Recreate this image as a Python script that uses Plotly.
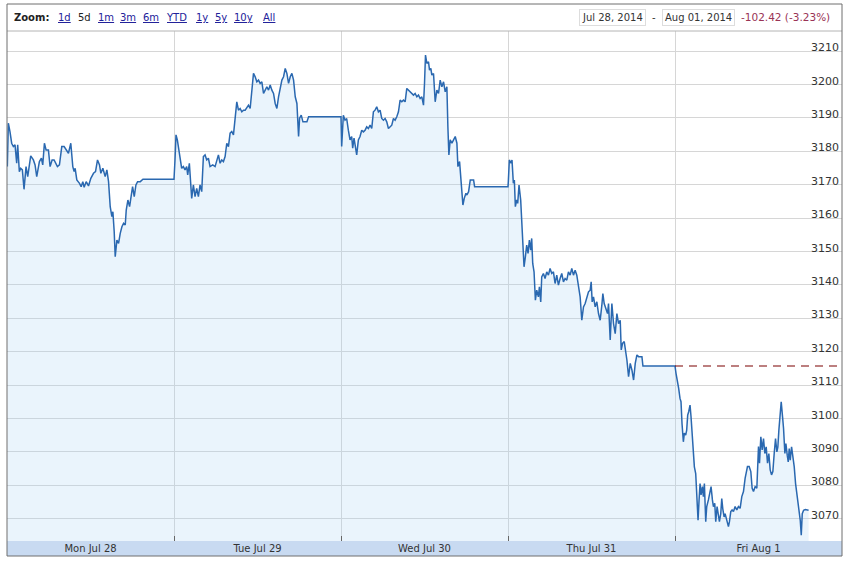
import plotly.graph_objects as go

# ---------------- data ----------------
day_labels = ["Mon Jul 28", "Tue Jul 29", "Wed Jul 30", "Thu Jul 31", "Fri Aug 1"]
y_ticks = [3070, 3080, 3090, 3100, 3110, 3120, 3130, 3140, 3150, 3160, 3170, 3180, 3190, 3200, 3210]
prev_close = 3115.7
range_start = "Jul 28, 2014"
range_end = "Aug 01, 2014"
change_text = "-102.42 (-3.23%)"
zoom_buttons = ["1d", "5d", "1m", "3m", "6m", "YTD", "1y", "5y", "10y", "All"]
zoom_selected = "5d"

# intraday offsets (fraction of day) and index values
mon_t = [0.002, 0.008, 0.018, 0.028, 0.038, 0.048, 0.058, 0.064, 0.074, 0.082, 0.092, 0.102, 0.114, 0.124,
         0.142, 0.158, 0.168, 0.178, 0.194, 0.206, 0.214, 0.224, 0.234, 0.248, 0.258, 0.270, 0.282, 0.294,
         0.302, 0.314, 0.328, 0.342, 0.354, 0.368, 0.382, 0.394, 0.402, 0.408, 0.418, 0.434, 0.444, 0.454,
         0.462, 0.474, 0.488, 0.502, 0.518, 0.530, 0.542, 0.554, 0.562, 0.574, 0.588, 0.598, 0.608, 0.618,
         0.628, 0.634, 0.642, 0.648, 0.658, 0.668, 0.678, 0.688, 0.698, 0.708, 0.714, 0.724, 0.734, 0.744,
         0.752, 0.762, 0.772, 0.782, 0.798, 0.814]
mon_v = [3175.4, 3188.4, 3185.8, 3182.4, 3181.4, 3181.9, 3176.4, 3181.9, 3173.9, 3174.9, 3174.4, 3168.6, 3175.4, 3172.4,
         3178.6, 3177.4, 3175.9, 3172.4, 3176.9, 3177.9, 3175.9, 3182.4, 3180.4, 3180.4, 3175.4, 3177.4, 3177.4, 3175.9,
         3175.4, 3175.9, 3181.4, 3181.4, 3180.4, 3179.4, 3182.4, 3175.4, 3173.9, 3174.9, 3171.4, 3170.4, 3169.4, 3170.9,
         3169.2, 3170.9, 3169.6, 3171.9, 3173.4, 3173.9, 3177.4, 3175.9, 3173.4, 3174.9, 3172.4, 3174.4, 3170.9, 3163.4,
         3160.4, 3161.9, 3155.9, 3148.4, 3153.4, 3152.4, 3155.4, 3157.4, 3158.4, 3157.9, 3162.4, 3165.4, 3163.4, 3167.4,
         3169.4, 3166.4, 3169.9, 3170.9, 3170.9, 3171.6]

tue_t = [0.000, 0.006, 0.012, 0.020, 0.026, 0.036, 0.046, 0.056, 0.066, 0.076, 0.082, 0.092, 0.100, 0.106,
         0.116, 0.126, 0.136, 0.146, 0.156, 0.166, 0.176, 0.186, 0.196, 0.206, 0.216, 0.232, 0.246, 0.256,
         0.266, 0.276, 0.286, 0.296, 0.306, 0.316, 0.326, 0.336, 0.346, 0.356, 0.366, 0.376, 0.386, 0.396,
         0.406, 0.416, 0.426, 0.436, 0.446, 0.456, 0.466, 0.476, 0.486, 0.496, 0.506, 0.516, 0.526, 0.536,
         0.546, 0.556, 0.566, 0.576, 0.586, 0.596, 0.606, 0.616, 0.626, 0.636, 0.646, 0.656, 0.666, 0.676,
         0.686, 0.696, 0.706, 0.716, 0.726, 0.736, 0.746, 0.752, 0.762, 0.772, 0.782, 0.796, 0.806]
tue_v = [3171.6, 3177.4, 3184.9, 3183.4, 3181.4, 3179.4, 3174.9, 3175.4, 3174.4, 3175.4, 3172.9, 3176.4, 3169.4, 3165.9,
         3169.9, 3166.4, 3168.9, 3166.4, 3169.9, 3167.9, 3178.4, 3178.9, 3177.4, 3177.9, 3175.4, 3175.9, 3175.4, 3176.9,
         3178.9, 3176.4, 3177.4, 3176.9, 3178.4, 3182.4, 3181.4, 3185.4, 3185.9, 3184.9, 3190.4, 3194.8, 3192.3, 3192.8,
         3191.8, 3192.3, 3192.3, 3193.3, 3193.8, 3192.8, 3197.3, 3203.3, 3202.3, 3200.8, 3201.3, 3200.3, 3200.8, 3197.3,
         3198.3, 3199.3, 3198.3, 3199.8, 3198.3, 3197.3, 3194.3, 3192.8, 3196.3, 3198.8, 3201.3, 3202.3, 3204.8, 3203.3,
         3200.3, 3202.3, 3203.3, 3201.3, 3196.3, 3194.3, 3184.4, 3189.9, 3190.8, 3188.8, 3188.8, 3188.8, 3190.3]

wed_t = [0.000, 0.004, 0.014, 0.024, 0.034, 0.044, 0.054, 0.064, 0.070, 0.078, 0.084, 0.094, 0.104, 0.114,
         0.124, 0.134, 0.144, 0.154, 0.164, 0.174, 0.184, 0.194, 0.204, 0.214, 0.224, 0.234, 0.244, 0.254,
         0.264, 0.274, 0.284, 0.294, 0.304, 0.314, 0.324, 0.334, 0.344, 0.354, 0.364, 0.374, 0.384, 0.394,
         0.404, 0.414, 0.424, 0.434, 0.444, 0.454, 0.464, 0.474, 0.484, 0.494, 0.500, 0.506, 0.514, 0.524,
         0.530, 0.538, 0.544, 0.554, 0.564, 0.574, 0.584, 0.594, 0.604, 0.614, 0.624, 0.634, 0.640, 0.646,
         0.654, 0.664, 0.674, 0.684, 0.694, 0.700, 0.710, 0.718, 0.730, 0.738, 0.748, 0.754, 0.764, 0.774,
         0.784, 0.794, 0.800]
wed_v = [3190.3, 3181.4, 3190.8, 3189.3, 3189.8, 3186.3, 3183.4, 3184.4, 3180.9, 3183.9, 3182.4, 3178.9, 3183.4, 3184.4,
         3186.3, 3185.8, 3186.3, 3187.3, 3186.8, 3187.8, 3186.8, 3191.8, 3192.3, 3193.3, 3191.8, 3192.3, 3189.8, 3189.3,
         3189.8, 3188.8, 3186.8, 3187.3, 3187.8, 3189.8, 3189.3, 3190.3, 3191.8, 3195.3, 3194.8, 3195.3, 3194.8, 3198.8,
         3198.3, 3197.8, 3197.3, 3196.8, 3197.3, 3196.3, 3196.8, 3195.8, 3196.3, 3193.8, 3200.3, 3208.8, 3206.3, 3206.8,
         3204.3, 3204.8, 3202.8, 3203.3, 3194.8, 3198.3, 3197.3, 3201.3, 3199.3, 3200.8, 3197.8, 3199.3, 3187.3, 3178.9,
         3183.4, 3182.4, 3183.4, 3184.4, 3182.4, 3175.4, 3176.9, 3171.4, 3163.9, 3165.9, 3167.4, 3166.9, 3167.9, 3171.4,
         3171.4, 3171.4, 3169.4]

thu_t = [0.000, 0.002, 0.008, 0.018, 0.024, 0.032, 0.038, 0.044, 0.052, 0.058, 0.066, 0.076, 0.082, 0.088,
         0.096, 0.104, 0.112, 0.120, 0.128, 0.136, 0.142, 0.148, 0.156, 0.164, 0.172, 0.182, 0.188, 0.196,
         0.202, 0.212, 0.222, 0.232, 0.242, 0.252, 0.262, 0.272, 0.282, 0.292, 0.302, 0.312, 0.322, 0.332,
         0.342, 0.352, 0.362, 0.372, 0.382, 0.392, 0.402, 0.412, 0.422, 0.432, 0.442, 0.452, 0.462, 0.472,
         0.482, 0.492, 0.498, 0.504, 0.512, 0.522, 0.532, 0.542, 0.552, 0.562, 0.568, 0.576, 0.588, 0.596,
         0.602, 0.612, 0.622, 0.632, 0.642, 0.652, 0.662, 0.672, 0.678, 0.686, 0.696, 0.704, 0.712, 0.722,
         0.732, 0.742, 0.752, 0.762, 0.772, 0.782, 0.792, 0.802, 0.808]
thu_v = [3169.4, 3170.9, 3177.4, 3176.4, 3177.4, 3170.4, 3171.4, 3163.4, 3165.4, 3164.4, 3169.9, 3165.4, 3160.4, 3153.4,
         3145.4, 3148.4, 3151.9, 3149.4, 3153.4, 3150.4, 3153.9, 3146.4, 3143.9, 3135.4, 3138.4, 3136.4, 3139.4, 3134.9,
         3142.4, 3143.4, 3141.9, 3143.9, 3142.9, 3144.9, 3143.4, 3143.9, 3140.4, 3142.9, 3139.9, 3141.9, 3143.4, 3140.9,
         3141.9, 3141.4, 3143.9, 3142.9, 3144.9, 3142.9, 3144.4, 3142.9, 3139.9, 3136.4, 3129.4, 3133.4, 3134.4, 3136.4,
         3137.9, 3138.4, 3140.9, 3134.9, 3136.4, 3133.4, 3134.9, 3131.4, 3129.4, 3133.9, 3137.4, 3134.4, 3132.4, 3131.4,
         3134.4, 3123.5, 3134.4, 3128.4, 3125.4, 3131.4, 3128.4, 3129.4, 3120.5, 3122.5, 3123.0, 3120.5, 3117.5, 3112.5,
         3116.5, 3114.5, 3111.5, 3116.5, 3119.0, 3118.5, 3118.5, 3118.5, 3115.7]

fri_t = [0.000, 0.006, 0.014, 0.022, 0.030, 0.036, 0.042, 0.050, 0.056, 0.064, 0.070, 0.076, 0.082, 0.090,
         0.096, 0.104, 0.110, 0.116, 0.124, 0.130, 0.138, 0.144, 0.150, 0.156, 0.164, 0.170, 0.176, 0.184,
         0.190, 0.200, 0.210, 0.216, 0.224, 0.230, 0.238, 0.244, 0.252, 0.260, 0.266, 0.274, 0.280, 0.286,
         0.294, 0.300, 0.310, 0.320, 0.326, 0.334, 0.342, 0.350, 0.360, 0.370, 0.380, 0.390, 0.400, 0.410,
         0.420, 0.426, 0.434, 0.444, 0.454, 0.462, 0.470, 0.480, 0.490, 0.500, 0.506, 0.514, 0.522, 0.530,
         0.538, 0.546, 0.554, 0.562, 0.570, 0.578, 0.586, 0.594, 0.602, 0.610, 0.616, 0.622, 0.630, 0.636,
         0.644, 0.650, 0.658, 0.664, 0.672, 0.678, 0.684, 0.690, 0.698, 0.706, 0.714, 0.722, 0.730, 0.736,
         0.744, 0.750, 0.756, 0.762, 0.770, 0.780, 0.800]
fri_v = [3115.7, 3113.5, 3111.5, 3109.0, 3106.0, 3105.0, 3098.5, 3093.0, 3095.6, 3095.0, 3096.5, 3101.0, 3102.0, 3104.0,
         3100.5, 3094.5, 3090.5, 3085.5, 3083.5, 3077.5, 3069.5, 3075.5, 3080.5, 3077.1, 3079.6, 3076.6, 3080.5, 3069.1,
         3073.6, 3075.6, 3078.1, 3079.6, 3075.6, 3073.6, 3074.6, 3069.1, 3073.6, 3071.1, 3069.1, 3071.5, 3076.0, 3073.0,
         3070.5, 3071.5, 3069.1, 3067.6, 3069.1, 3072.1, 3072.6, 3072.1, 3073.6, 3072.6, 3073.6, 3073.1, 3076.6, 3078.1,
         3082.1, 3084.1, 3085.6, 3085.6, 3084.1, 3079.1, 3078.1, 3079.6, 3079.1, 3091.6, 3086.6, 3094.5, 3090.6, 3094.0,
         3089.5, 3091.5, 3086.6, 3089.5, 3084.6, 3083.1, 3084.1, 3089.5, 3094.0, 3090.0, 3091.5, 3096.5, 3101.0, 3105.0,
         3100.5, 3097.0, 3089.5, 3092.5, 3089.0, 3087.0, 3091.0, 3087.5, 3091.5, 3088.5, 3085.5, 3080.5, 3077.5, 3074.5,
         3071.0, 3069.5, 3065.0, 3071.5, 3072.5, 3072.7, 3072.5]

days_t = [mon_t, tue_t, wed_t, thu_t, fri_t]
days_v = [mon_v, tue_v, wed_v, thu_v, fri_v]

# ---------------- build ----------------
xs, ys = [], []
for d, (tt, vv) in enumerate(zip(days_t, days_v)):
    xs += [d + t for t in tt]
    ys += vv

FONT = "DejaVu Sans"
W, H = 847, 561
ML, MR, MT, MB = 7, 5, 31, 20
PH = H - MT - MB
PW = W - ML - MR

fig = go.Figure()
fig.add_trace(go.Scatter(
    x=xs, y=ys, mode="lines",
    line=dict(color="#2a68b0", width=1.5),
    fill="tozeroy", fillcolor="rgba(170,212,245,0.25)",
    hoverinfo="skip", showlegend=False,
))

n_days = len(day_labels)
fig.update_xaxes(
    range=[0, n_days],
    tickvals=[i + 0.5 for i in range(n_days)],
    ticktext=day_labels,
    ticks="", showgrid=False, zeroline=False, showline=False,
    tickfont=dict(family=FONT, size=10, color="#333333"),
    minor=dict(tickvals=list(range(1, n_days)), ticks="inside", ticklen=5,
               tickcolor="#666666", showgrid=True, gridcolor="#d6d6d6", gridwidth=1),
    fixedrange=True,
)
fig.update_yaxes(
    range=[3063.3, 3216.0],
    side="right",
    tickvals=y_ticks,
    ticklabelposition="inside top",
    ticklabelshift=4,
    ticks="", showgrid=True, gridcolor="#d6d6d6", gridwidth=1,
    zeroline=False, showline=False,
    tickfont=dict(family=FONT, size=11, color="#333333"),
    fixedrange=True,
)

band_h = 15 / PH
top_h = (MT - 4) / PH
shapes = [
    # x-axis band
    dict(type="rect", xref="paper", yref="paper", x0=0, x1=1, y0=-band_h, y1=0,
         fillcolor="#c8daf1", line=dict(width=0), layer="below"),
    # header separator
    dict(type="line", xref="paper", yref="paper", x0=0, x1=1, y0=1, y1=1,
         line=dict(color="#b4b4b4", width=1)),
    # previous close dashed line
    dict(type="line", xref="x", yref="y", x0=n_days - 1, x1=n_days, y0=prev_close, y1=prev_close,
         line=dict(color="#7a0000", width=1.1, dash="8px,6px")),
    # outer frame
    dict(type="rect", xref="paper", yref="paper", x0=0, x1=1, y0=-band_h, y1=1 + top_h,
         line=dict(color="#6e6e6e", width=1), fillcolor="rgba(0,0,0,0)"),
]

def px_x(p):
    return (p - ML) / PW

hy = 1 + (MT - 17) / PH
ann = [dict(text="<b>Zoom:</b>", x=px_x(12), y=hy, xref="paper", yref="paper",
            xanchor="left", yanchor="middle", showarrow=False,
            font=dict(family=FONT, size=10, color="#222222"))]
btn_x = [56, 76, 96, 118, 141, 164, 194, 213, 232, 261]
for lab, bx in zip(zoom_buttons, btn_x):
    if lab == zoom_selected:
        txt, col = lab, "#222222"
    else:
        txt, col = "<u>" + lab + "</u>", "#22229a"
    ann.append(dict(text=txt, x=px_x(bx), y=hy, xref="paper", yref="paper",
                    xanchor="left", yanchor="middle", showarrow=False,
                    font=dict(family=FONT, size=10, color=col)))
ann.append(dict(text=range_start, x=px_x(579), y=hy, xref="paper", yref="paper",
                xanchor="left", yanchor="middle", showarrow=False,
                bordercolor="#dddddd", borderwidth=1, borderpad=2, bgcolor="#ffffff",
                font=dict(family=FONT, size=10, color="#333333")))
ann.append(dict(text="-", x=px_x(654), y=hy, xref="paper", yref="paper",
                xanchor="center", yanchor="middle", showarrow=False,
                font=dict(family=FONT, size=10, color="#333333")))
ann.append(dict(text=range_end, x=px_x(662), y=hy, xref="paper", yref="paper",
                xanchor="left", yanchor="middle", showarrow=False,
                bordercolor="#dddddd", borderwidth=1, borderpad=2, bgcolor="#ffffff",
                font=dict(family=FONT, size=10, color="#333333")))
ann.append(dict(text=change_text, x=px_x(739), y=hy, xref="paper", yref="paper",
                xanchor="left", yanchor="middle", showarrow=False,
                font=dict(family=FONT, size=10.5, color="#993355")))

fig.update_layout(
    width=W, height=H,
    margin=dict(l=ML, r=MR, t=MT, b=MB, pad=0),
    paper_bgcolor="#ffffff", plot_bgcolor="#ffffff",
    shapes=shapes, annotations=ann,
    hovermode=False, showlegend=False,
)

fig.write_html("out.html", config={"displayModeBar": False},
               post_script="document.body.style.margin='0';document.body.style.overflow='hidden';")
